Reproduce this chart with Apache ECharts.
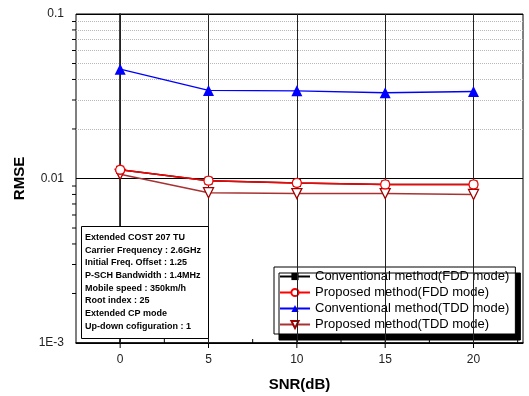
<!DOCTYPE html>
<html><head><meta charset="utf-8">
<script src="https://cdn.jsdelivr.net/npm/echarts@6/dist/echarts.min.js"></script>
<style>html,body{margin:0;padding:0;background:#fff}#c{width:529px;height:396px}</style>
</head><body><div id="c"></div>
<script>
const snr = [0, 5, 10, 15, 20];
const convFDD = [0.0113, 0.0097, 0.0094, 0.0092, 0.0092];
const propFDD = [0.0113, 0.0097, 0.0094, 0.0092, 0.0092];
const convTDD = [0.0462, 0.0343, 0.0341, 0.0332, 0.0338];
const propTDD = [0.0106, 0.0082, 0.0081, 0.0081, 0.0080];
const seriesNames = ['Conventional method(FDD mode)', 'Proposed method(FDD mode)', 'Conventional method(TDD mode)', 'Proposed method(TDD mode)'];
const minorY = [0.002,0.003,0.004,0.005,0.006,0.007,0.008,0.009,0.02,0.03,0.04,0.05,0.06,0.07,0.08,0.09];
const majorX = [0, 5, 10, 15, 20];
const minorX = [-2.5, 2.5, 7.5, 12.5, 17.5, 22.5];
const infoLines = ['Extended COST 207 TU','Carrier Frequency : 2.6GHz','Initial Freq. Offset : 1.25','P-SCH Bandwidth : 1.4MHz','Mobile speed : 350km/h','Root index : 25','Extended CP mode','Up-down cofiguration : 1'];

const XMIN = -2.5, XMAX = 22.8, YMIN = 0.001;
const pairs = arr => snr.map((x, i) => [x, arr[i]]);
const font = 'Arial, "Liberation Sans", sans-serif';

// tick marks: [x, y, kind]  kind 0 = y minor (outward left), 1 = x major (across axis), 2 = x minor (inward up)
const tickData = minorY.map(v => [XMIN, v, 0])
  .concat(majorX.map(v => [v, YMIN, 1]))
  .concat(minorX.filter(v => v > XMIN && v < XMAX).map(v => [v, YMIN, 2]));

const chart = echarts.init(document.getElementById('c'));
chart.setOption({
  animation: false,
  grid: { left: 76, right: 6, top: 14, bottom: 53, show: true, borderColor: '#000', borderWidth: 1,
          containLabel: false, outerBoundsMode: 'none' },
  xAxis: {
    type: 'value', min: XMIN, max: XMAX, interval: 2.5,
    name: 'SNR(dB)', nameLocation: 'middle', nameGap: 34,
    nameTextStyle: { fontFamily: font, fontWeight: 'bold', fontSize: 15, color: '#000' },
    axisLine: { lineStyle: { color: '#000', width: 1.5 } },
    axisTick: { show: false },
    axisLabel: { fontFamily: font, fontSize: 12, color: '#222', margin: 11,
      formatter: v => (Math.abs(v % 5) < 1e-9 && v >= 0 && v <= 20) ? String(v) : '' },
    splitLine: { show: false }
  },
  yAxis: {
    type: 'log', logBase: 10, min: 0.001, max: 0.1,
    name: 'RMSE', nameLocation: 'middle', nameGap: 40,
    nameTextStyle: { fontFamily: font, fontWeight: 'bold', fontSize: 15, color: '#000' },
    axisLine: { lineStyle: { color: '#000', width: 1.5 } },
    axisTick: { inside: false, length: 6, lineStyle: { color: '#000' } },
    axisLabel: { fontFamily: font, fontSize: 12, color: '#222', margin: 12,
      formatter: v => v > 0.05 ? '0.1' : (v > 0.005 ? '0.01' : '1E-3') },
    splitLine: { show: true, lineStyle: { color: '#000', width: 1, type: 'solid' } }
  },
  legend: {
    orient: 'vertical', left: 274, top: 267,
    data: seriesNames,
    itemWidth: 30, itemHeight: 9, itemGap: 3,
    padding: [3, 6, 3, 5],
    backgroundColor: '#fff', borderColor: '#000', borderWidth: 1,
    shadowColor: '#000', shadowBlur: 0, shadowOffsetX: 5, shadowOffsetY: 6,
    textStyle: { fontFamily: font, fontSize: 13, color: '#000' }
  },
  graphic: [
    { type: 'rect', left: 81, top: 226, z: 100, shape: { x: 0, y: 0, width: 127, height: 112 },
      style: { fill: '#fff', stroke: '#000', lineWidth: 1 } },
    { type: 'text', left: 85, top: 231, z: 101,
      style: { text: infoLines.join('\n'), font: 'bold 9px ' + font, lineHeight: 12.7, fill: '#000' } }
  ],
  series: [
    { type: 'line', name: '_grid', data: [], silent: true, z: 1,
      markLine: { silent: true, symbol: 'none', label: { show: false },
        data: minorY.map(v => ({ yAxis: v, lineStyle: { color: '#b8b8b8', type: 'dotted', width: 1 } }))
          .concat([{ yAxis: 0.01, lineStyle: { color: '#000', type: 'solid', width: 1 } }])
          .concat(majorX.map(v => ({ xAxis: v, lineStyle: { color: '#222', type: 'solid', width: 1 } }))) } },
    { type: 'custom', name: '_ticks', silent: true, z: 3, clip: false,
      data: tickData,
      renderItem: (params, api) => {
        const p = api.coord([api.value(0), api.value(1)]);
        const k = api.value(2);
        let shape;
        if (k === 0) shape = { x1: p[0] - 4, y1: p[1], x2: p[0], y2: p[1] };
        else if (k === 1) shape = { x1: p[0], y1: p[1] - 3, x2: p[0], y2: p[1] + 5 };
        else shape = { x1: p[0], y1: p[1] - 4, x2: p[0], y2: p[1] };
        return { type: 'line', shape: shape, style: { stroke: '#000', lineWidth: 1 } };
      } },
    { type: 'line', name: seriesNames[0], data: pairs(convFDD), z: 4,
      symbol: 'rect', symbolSize: 8, lineStyle: { color: '#000', width: 1.5 }, itemStyle: { color: '#000' } },
    { type: 'line', name: seriesNames[1], data: pairs(propFDD), z: 6,
      symbol: 'circle', symbolSize: 9, lineStyle: { color: '#ff0000', width: 1.5 },
      itemStyle: { color: '#fff', borderColor: '#ff0000', borderWidth: 1.3 } },
    { type: 'line', name: seriesNames[2], data: pairs(convTDD), z: 5,
      symbol: 'triangle', symbolSize: 11, lineStyle: { color: '#0000ff', width: 1.3 }, itemStyle: { color: '#0000ff' } },
    { type: 'line', name: seriesNames[3], data: pairs(propTDD), z: 5,
      symbol: 'triangle', symbolRotate: 180, symbolSize: 10, lineStyle: { color: '#a83232', width: 1.5 },
      itemStyle: { color: '#fff', borderColor: '#a00000', borderWidth: 1.3 } }
  ]
});
</script></body></html>
